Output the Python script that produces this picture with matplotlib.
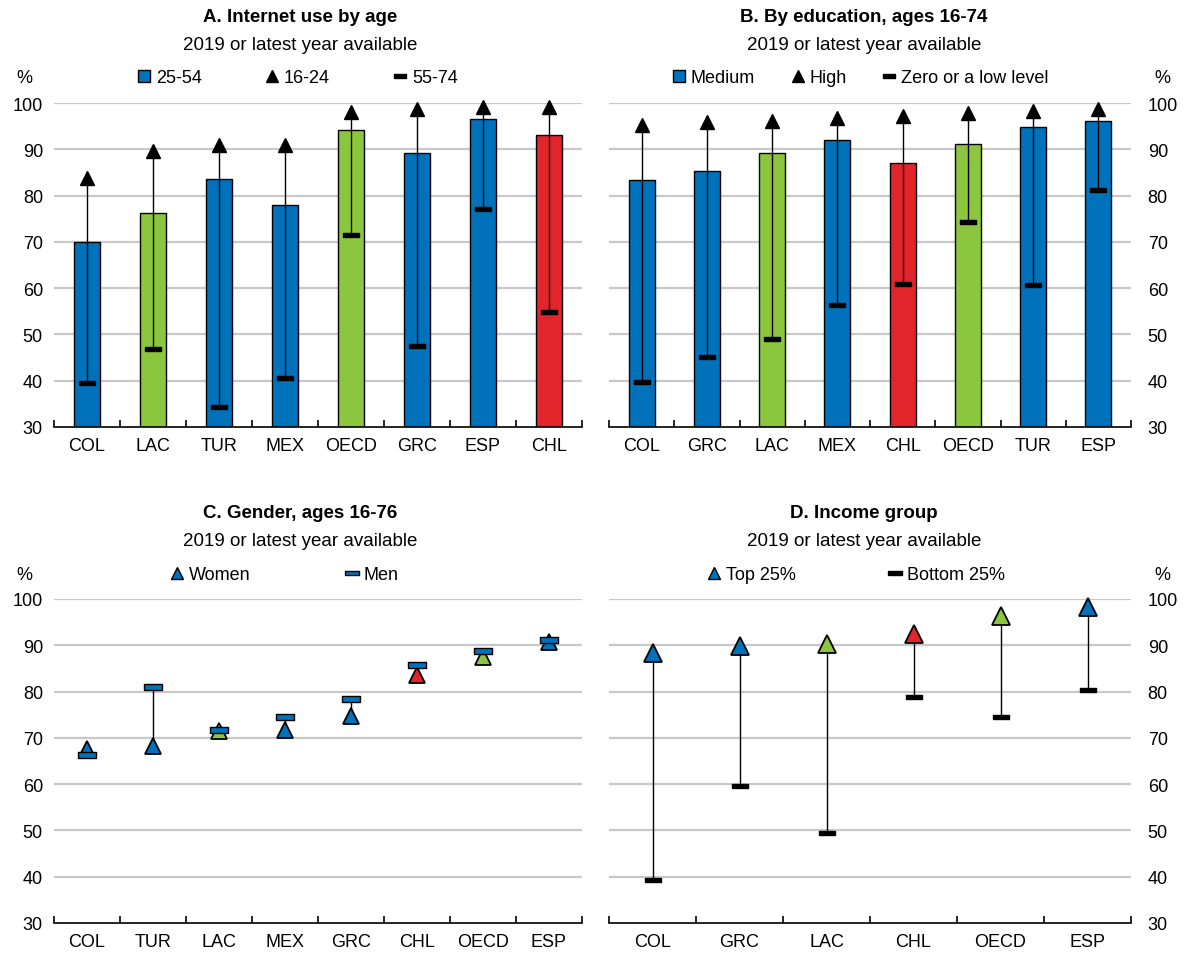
import numpy as np
import matplotlib
matplotlib.use("Agg")
import matplotlib.pyplot as plt
from matplotlib.lines import Line2D

plt.rcParams['font.family'] = ['Liberation Sans', 'DejaVu Sans']
plt.rcParams['font.size'] = 13

BLUE = '#0072BC'
GREEN = '#8CC63F'
RED = '#E1252B'
GRID = '#C8C8C8'

# Panel A: internet use by age
a_cats = ['COL', 'LAC', 'TUR', 'MEX', 'OECD', 'GRC', 'ESP', 'CHL']
a_25_54 = [70.0, 76.3, 83.6, 77.9, 94.2, 89.1, 96.6, 93.0]
a_16_24 = [83.8, 89.6, 91.0, 91.0, 98.0, 98.8, 99.2, 99.2]
a_55_74 = [39.6, 46.8, 34.4, 40.5, 71.4, 47.4, 77.2, 54.8]

# Panel B: by education
b_cats = ['COL', 'GRC', 'LAC', 'MEX', 'CHL', 'OECD', 'TUR', 'ESP']
b_medium = [83.3, 85.4, 89.1, 92.0, 87.0, 91.1, 94.9, 96.2]
b_high = [95.3, 96.0, 96.2, 96.8, 97.2, 97.8, 98.2, 98.6]
b_low = [39.8, 45.1, 49.0, 56.3, 60.9, 74.2, 60.7, 81.3]

# Panel C: gender
c_cats = ['COL', 'TUR', 'LAC', 'MEX', 'GRC', 'CHL', 'OECD', 'ESP']
c_women = [67.6, 68.2, 71.4, 71.7, 74.7, 83.6, 87.5, 90.7]
c_men = [66.4, 81.0, 71.6, 74.5, 78.4, 85.7, 88.8, 91.1]

# Panel D: income group
d_cats = ['COL', 'GRC', 'LAC', 'CHL', 'OECD', 'ESP']
d_top = [88.3, 89.8, 90.2, 92.4, 96.3, 98.2]
d_bottom = [39.3, 59.6, 49.4, 78.8, 74.5, 80.3]


def cat_color(c):
    if c in ('LAC', 'OECD'):
        return GREEN
    if c == 'CHL':
        return RED
    return BLUE


DASH = [(-1, -0.28), (1, -0.28), (1, 0.28), (-1, 0.28), (-1, -0.28)]

W, H = 1185, 954
fig = plt.figure(figsize=(W / 100, H / 100), dpi=100)


def px_axes(x0, x1, ytop, ybot):
    return fig.add_axes([x0 / W, 1 - ybot / H, (x1 - x0) / W, (ybot - ytop) / H])


def style(ax, cats, right=False):
    n = len(cats)
    ax.set_xlim(-0.5, n - 0.5)
    ax.set_ylim(30, 100)
    ax.set_yticks(np.arange(30, 101, 10))
    ax.yaxis.grid(True, color=GRID, lw=1.6)
    ax.set_axisbelow(True)
    for s in ['left', 'right', 'top']:
        ax.spines[s].set_visible(False)
    ax.spines['bottom'].set_linewidth(1.2)
    ax.set_xticks(range(n))
    ax.set_xticklabels(cats)
    ax.set_xticks(np.arange(-0.5, n, 1.0), minor=True)
    ax.tick_params(axis='x', which='major', length=0, pad=7)
    ax.tick_params(axis='x', which='minor', length=5, width=1.2, direction='in')
    if right:
        ax.yaxis.tick_right()
        ax.tick_params(axis='y', length=0, pad=12)
    else:
        ax.tick_params(axis='y', length=0, pad=8)
    # the 30 gridline sits under the axis line
    ax.get_ygridlines()[0].set_visible(False)


def legend(ax, handles, labels, x, y, spacing):
    ax.legend(handles, labels, loc='center left', bbox_to_anchor=(x / W, 1 - y / H),
              bbox_transform=fig.transFigure, ncol=len(handles), frameon=False,
              borderpad=0, borderaxespad=0, handlelength=0.8, handletextpad=0.25,
              columnspacing=spacing, fontsize=13)


def titles(xc, y, title):
    fig.text(xc / W, 1 - y / H, title, ha='center', va='center', fontsize=13.5, fontweight='bold')
    fig.text(xc / W, 1 - (y + 28) / H, '2019 or latest year available', ha='center', va='center', fontsize=13.5)


# ---- Panel A
axA = px_axes(54, 582, 104, 428)
x = np.arange(len(a_cats))
axA.bar(x, a_25_54, width=0.4, color=[cat_color(c) for c in a_cats], edgecolor='black', lw=1)
axA.vlines(x, a_55_74, a_16_24, color='black', lw=1)
axA.plot(x, a_16_24, '^', color='black', ms=10, ls='none', clip_on=False)
axA.plot(x, a_55_74, marker=DASH, color='black', ms=11, ls='none')
style(axA, a_cats)
legend(axA, [Line2D([], [], marker='s', ls='none', mfc=BLUE, mec='black', ms=9),
             Line2D([], [], marker='^', ls='none', color='black', ms=8),
             Line2D([], [], marker=DASH, ls='none', color='black', ms=9)],
       ['25-54', '16-24', '55-74'], 137, 79, 3.5)
titles(300, 18, 'A. Internet use by age')
fig.text(24 / W, 1 - 79 / H, '%', ha='center', va='center', fontsize=13)

# ---- Panel B
axB = px_axes(609, 1131, 104, 428)
x = np.arange(len(b_cats))
axB.bar(x, b_medium, width=0.4, color=[cat_color(c) for c in b_cats], edgecolor='black', lw=1)
axB.vlines(x, b_low, b_high, color='black', lw=1)
axB.plot(x, b_high, '^', color='black', ms=10, ls='none', clip_on=False)
axB.plot(x, b_low, marker=DASH, color='black', ms=11, ls='none')
style(axB, b_cats, right=True)
legend(axB, [Line2D([], [], marker='s', ls='none', mfc=BLUE, mec='black', ms=9),
             Line2D([], [], marker='^', ls='none', color='black', ms=8),
             Line2D([], [], marker=DASH, ls='none', color='black', ms=9)],
       ['Medium', 'High', 'Zero or a low level'], 672, 79, 1.95)
titles(864, 18, 'B. By education, ages 16-74')
fig.text(1162 / W, 1 - 79 / H, '%', ha='center', va='center', fontsize=13)

# ---- Panel C
axC = px_axes(54, 582, 600, 924)
x = np.arange(len(c_cats))
axC.vlines(x, c_women, c_men, color='black', lw=1)
for xi, c, v in zip(x, c_cats, c_women):
    axC.plot(xi, v, '^', mfc=cat_color(c), mec='black', mew=1.3, ms=12, ls='none')
axC.plot(x, c_men, marker=DASH, mfc=BLUE, mec='black', mew=1, ms=13, ls='none')
style(axC, c_cats)
legend(axC, [Line2D([], [], marker='^', ls='none', mfc=BLUE, mec='black', ms=9),
             Line2D([], [], marker=DASH, ls='none', mfc=BLUE, mec='black', ms=10)],
       ['Women', 'Men'], 170, 576, 5.2)
titles(300, 514, 'C. Gender, ages 16-76')
fig.text(24 / W, 1 - 576 / H, '%', ha='center', va='center', fontsize=13)

# ---- Panel D
axD = px_axes(609, 1131, 600, 924)
x = np.arange(len(d_cats))
axD.vlines(x, d_bottom, d_top, color='black', lw=1)
axD.plot(x, d_bottom, marker=DASH, color='black', ms=11, ls='none')
for xi, c, v in zip(x, d_cats, d_top):
    axD.plot(xi, v, '^', mfc=cat_color(c), mec='black', mew=1.3, ms=13, ls='none', clip_on=False)
style(axD, d_cats, right=True)
legend(axD, [Line2D([], [], marker='^', ls='none', mfc=BLUE, mec='black', ms=9),
             Line2D([], [], marker=DASH, ls='none', color='black', ms=10)],
       ['Top 25%', 'Bottom 25%'], 707, 576, 5.1)
titles(864, 514, 'D. Income group')
fig.text(1162 / W, 1 - 576 / H, '%', ha='center', va='center', fontsize=13)

fig.savefig('out.png', dpi=100)
